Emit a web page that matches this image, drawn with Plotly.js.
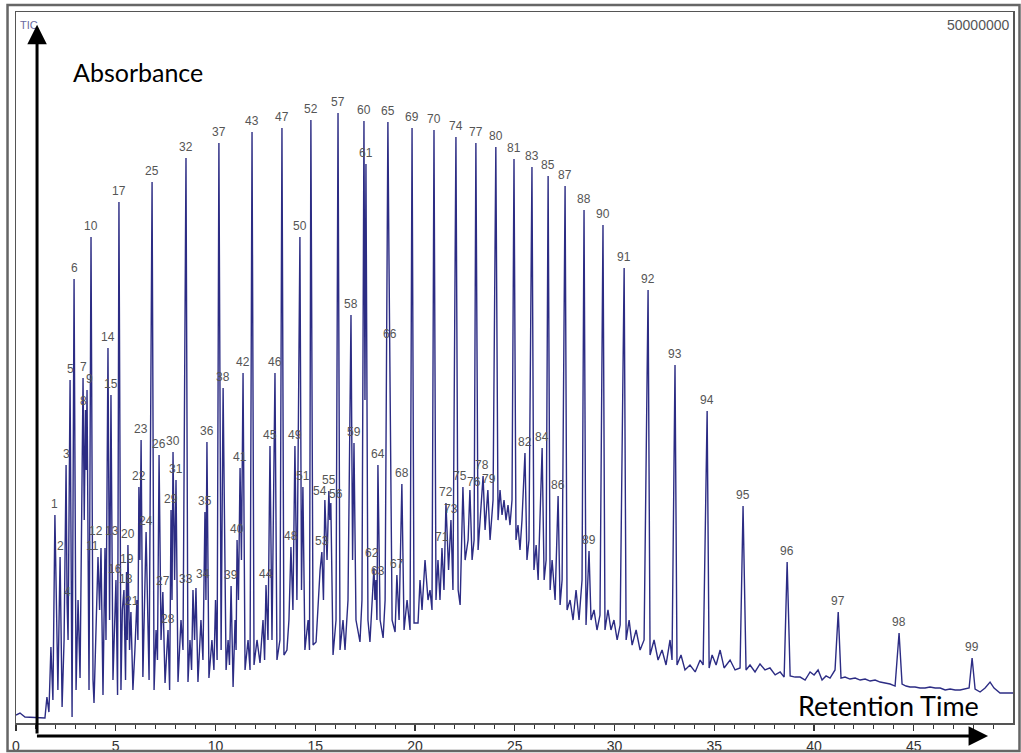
<!DOCTYPE html>
<html>
<head>
<meta charset="utf-8">
<script src="https://cdn.plot.ly/plotly-3.0.1.min.js"></script>
<style>html,body{margin:0;padding:0;background:#fff;}#chart{width:1021px;height:753px;}</style>
</head>
<body>
<div id="chart"></div>
<script>
// Labelled peaks: retention time (min) and apex abundance (millions of counts)
const peakNumbers = Array.from({length: 99}, (_, i) => String(i + 1));
const peakTimes = [1.95,2.21,2.51,2.56,2.71,2.91,3.36,3.48,3.56,3.76,
  4.11,4.26,4.46,4.61,4.76,5.01,5.16,5.41,5.54,5.61,
  5.76,6.16,6.27,6.52,6.82,7.17,7.36,7.62,7.77,7.87,
  8.02,8.52,8.87,9.02,9.47,9.57,10.17,10.38,10.78,11.08,
  11.23,11.38,11.83,12.53,12.73,12.98,13.33,13.78,13.98,14.23,
  14.38,14.78,15.33,15.48,15.68,15.78,16.14,16.79,16.94,17.44,
  17.54,17.94,18.04,18.14,18.64,18.74,19.09,19.34,19.85,20.95,
  21.35,21.55,21.80,22.05,22.40,22.75,23.05,23.41,23.65,24.05,
  24.96,25.51,25.86,26.37,26.67,27.17,27.52,28.47,28.72,29.42,
  30.48,31.68,33.03,34.64,36.44,38.65,41.21,44.26,47.92];
const peakHeights = [14.63,11.67,18.14,8.44,24.12,31.22,24.26,22.01,23.42,34.18,
  11.67,12.31,12.31,26.37,23.07,10.06,36.64,9.35,10.62,12.52,
  7.81,16.60,19.90,13.43,38.04,18.85,9.21,6.54,14.98,19.06,
  17.09,39.73,9.35,9.49,14.84,19.76,40.79,23.56,9.63,12.87,
  17.93,24.61,41.56,9.70,19.48,24.61,41.84,12.38,19.48,34.18,
  16.60,42.40,12.02,15.68,16.31,15.47,42.90,28.69,19.69,42.33,
  39.31,10.90,10.06,18.14,42.26,26.58,10.41,16.81,41.84,41.70,
  12.31,15.47,14.27,41.21,16.60,16.38,40.79,17.37,16.38,40.50,
  39.66,18.99,39.10,19.34,38.47,15.96,37.76,36.07,12.10,35.02,
  32.00,30.45,25.17,21.94,15.26,11.32,7.81,6.33,4.57];

// Valleys, baseline and unlabelled peaks of the TIC trace
const bgTimes = [0,0.20,0.45,1.45,1.55,1.65,1.75,1.85,2.10,2.31,2.41,2.61,2.81,3.01,3.11,3.21,3.42,3.52,3.66,3.86,
  3.91,4.01,4.19,4.36,4.51,4.69,4.86,5.09,5.26,5.33,5.49,5.575,5.69,5.86,5.96,6.06,6.11,6.21,6.36,6.67,
  6.92,7.02,7.09,7.27,7.47,7.70,7.82,7.95,8.12,8.27,8.37,8.62,8.72,8.80,8.95,9.12,9.27,9.37,9.52,9.67,
  9.82,9.92,10.00,10.08,10.28,10.53,10.63,10.70,10.88,10.98,11.03,11.15,11.30,11.48,11.63,11.73,11.93,12.08,12.23,12.38,
  12.46,12.63,12.83,13.08,13.23,13.43,13.58,13.68,13.88,14.08,14.31,14.48,14.64,14.71,14.89,15.04,15.14,15.24,15.41,15.59,
  15.73,15.89,16.04,16.24,16.39,16.49,16.64,16.87,17.04,17.24,17.34,17.49,17.64,17.74,17.84,17.99,18.09,18.25,18.40,18.50,
  18.69,18.85,19.00,19.20,19.45,19.60,19.75,19.95,20.15,20.25,20.35,20.50,20.65,20.75,20.85,21.05,21.15,21.25,21.45,21.68,
  21.90,22.16,22.26,22.51,22.66,22.86,22.96,23.16,23.26,23.51,23.76,23.91,24.16,24.26,24.36,24.46,24.56,24.66,24.76,24.86,
  25.06,25.16,25.26,25.36,25.61,25.71,25.96,26.07,26.17,26.47,26.57,26.77,26.87,27.02,27.27,27.37,27.62,27.77,27.92,28.07,
  28.22,28.37,28.57,28.82,28.97,29.12,29.27,29.52,29.67,29.82,29.97,30.13,30.28,30.58,30.73,30.88,31.08,31.28,31.48,31.78,
  31.98,32.18,32.38,32.58,32.78,32.88,33.13,33.33,33.53,33.78,34.04,34.29,34.44,34.74,34.89,35.09,35.29,35.49,35.79,36.04,
  36.29,36.59,36.79,37.04,37.29,37.54,37.79,38.05,38.30,38.50,38.80,39.05,39.30,39.55,39.80,40.00,40.20,40.40,40.60,40.80,
  41.05,41.35,41.55,41.80,42.06,42.31,42.56,42.81,43.06,43.31,43.56,43.81,44.06,44.41,44.61,44.81,45.06,45.31,45.56,45.81,
  46.07,46.32,46.57,46.82,47.07,47.32,47.57,47.77,48.07,48.32,48.57,48.82,49.02,49.32,49.97];
const bgHeights = [0.56,0.70,0.42,0.35,1.83,0.77,5.34,1.62,2.32,1.13,5.84,5.84,0.42,2.32,8.65,3.16,14.27,17.79,2.32,3.02,
  1.41,5.84,7.95,1.97,5.84,7.24,3.02,1.97,2.32,7.95,3.02,5.84,5.13,2.32,5.13,8.65,5.84,11.46,3.23,3.02,
  2.32,6.54,4.43,5.84,2.81,2.32,8.65,10.06,2.88,7.24,5.13,2.88,5.84,3.73,5.84,2.88,7.24,4.43,8.65,3.16,
  5.84,3.73,8.65,4.43,5.13,3.73,5.84,4.08,2.53,7.24,5.13,8.65,11.46,3.73,5.84,3.73,4.08,5.84,4.22,7.24,
  4.43,5.84,5.84,4.43,5.84,4.78,5.13,7.24,7.95,8.65,9.35,5.13,7.24,5.13,5.48,5.70,8.65,10.76,8.65,11.46,
  14.27,4.78,7.24,5.13,7.24,5.13,8.65,11.46,7.24,5.70,8.65,22.71,7.24,5.70,8.65,8.65,7.24,7.24,5.98,8.65,
  33.26,7.24,6.40,7.24,6.54,8.65,6.54,7.03,7.03,10.06,7.95,11.46,8.65,9.35,7.95,8.65,11.46,8.65,9.35,10.76,
  9.35,9.35,8.30,11.46,12.87,11.46,12.87,12.17,14.27,13.57,12.87,15.68,14.27,16.38,14.63,15.68,14.27,15.33,13.92,15.68,
  12.87,13.92,12.17,14.27,11.46,12.87,10.76,12.52,10.06,10.06,11.46,9.35,11.46,8.65,8.30,10.06,7.95,8.65,7.24,9.35,
  7.24,10.06,6.89,7.24,7.95,6.54,7.59,6.54,7.95,6.54,7.24,5.84,6.89,5.84,7.24,5.48,6.54,5.13,5.84,4.78,
  5.84,4.43,5.13,4.08,5.84,4.43,4.08,4.78,3.73,4.08,3.59,4.43,4.08,3.87,4.78,4.08,5.13,3.87,4.43,3.73,
  3.87,3.73,4.08,3.59,4.15,3.73,3.87,3.38,3.59,3.23,3.31,3.23,3.23,3.02,3.59,3.38,3.73,3.02,3.31,3.16,
  3.73,3.16,3.23,3.09,3.16,3.02,3.09,2.95,3.02,2.88,2.81,2.74,2.60,2.74,2.60,2.53,2.53,2.46,2.46,2.53,
  2.46,2.46,2.32,2.39,2.32,2.32,2.39,2.46,2.39,2.18,2.46,2.88,2.46,2.11,2.11];

const xTickVals = [0,5,10,15,20,25,30,35,40,45];
const xTickText = ['0','5','10','15','20','25','30','35','40','45'];
const fullScaleLabel = '50000000';

// Build the trace: merge labelled apexes with the background points in time order
const pts = [];
peakTimes.forEach((t, i) => pts.push([t, peakHeights[i]]));
bgTimes.forEach((t, i) => pts.push([t, bgHeights[i]]));
pts.sort((a, b) => a[0] - b[0]);

const trace = {
  x: pts.map(p => p[0]), y: pts.map(p => p[1]),
  type: 'scatter', mode: 'lines',
  line: {color: '#2c2c84', width: 1.4},
  hoverinfo: 'skip', showlegend: false
};

// label nudges (pixels) for crowded peak numbers
const labelNudge = {
  '8': [-2, -2], '9': [2, 0], '11': [-6, 0], '12': [-5, 6], '13': [7, 6],
  '16': [-1, 0], '18': [2, 0], '19': [0, 2], '21': [1, 0],
  '33': [-7, 0], '34': [7, 3], '54': [-5, -2], '55': [0, 0], '56': [5, -2],
  '62': [-2, 4], '63': [2, -2], '75': [-3, 0], '76': [4, -3], '78': [-1, 0], '79': [1, 0]
};

const annotations = peakNumbers.map((n, i) => {
  const nd = labelNudge[n] || [0, 0];
  return {
    x: peakTimes[i], y: peakHeights[i], xref: 'x', yref: 'y',
    text: n, showarrow: false, xanchor: 'center', yanchor: 'bottom',
    xshift: nd[0], yshift: 2 + nd[1],
    font: {family: 'Liberation Sans, Arial, sans-serif', size: 12, color: '#555'}
  };
});

annotations.push(
  {xref: 'paper', yref: 'paper', x: 0.0131, y: 0.9817, xanchor: 'center', yanchor: 'middle', text: 'TIC', showarrow: false,
   font: {family: 'Liberation Sans, Arial', size: 11, color: '#6a6aa0'}},
  {xref: 'paper', yref: 'paper', x: 0.999, y: 0.9817, xanchor: 'right', yanchor: 'middle', text: fullScaleLabel, showarrow: false,
   font: {family: 'Liberation Sans, Arial', size: 14, color: '#555'}},
  {xref: 'paper', yref: 'paper', x: 0.1224, y: 0.9156, xanchor: 'center', yanchor: 'middle', text: 'Absorbance', showarrow: false,
   font: {family: 'Lato, Carlito, sans-serif', size: 25, color: '#000'}},
  {xref: 'paper', yref: 'paper', x: 0.8756, y: 0.0253, xanchor: 'center', yanchor: 'middle', text: 'Retention Time', showarrow: false,
   font: {family: 'Lato, Carlito, sans-serif', size: 27, color: '#000'}},
  // vertical arrow
  {xref: 'paper', yref: 'paper', x: 0.0211, y: 0.982, ax: 0.0211, ay: -0.017, axref: 'paper', ayref: 'paper',
   text: '', showarrow: true, arrowhead: 2, arrowsize: 1.3, arrowwidth: 3, arrowcolor: '#000'},
  // horizontal arrow
  {xref: 'paper', yref: 'paper', x: 0.975, y: -0.0183, ax: 0.0195, ay: -0.0183, axref: 'paper', ayref: 'paper',
   text: '', showarrow: true, arrowhead: 2, arrowsize: 1.3, arrowwidth: 3, arrowcolor: '#000'}
);

const layout = {
  width: 1021, height: 753,
  margin: {l: 16, r: 8, t: 12, b: 30},
  paper_bgcolor: '#fff', plot_bgcolor: '#fff',
  showlegend: false,
  xaxis: {
    range: [0, 49.97], showgrid: false, zeroline: false,
    showline: true, mirror: true, linecolor: '#555', linewidth: 1.5,
    tickmode: 'array', tickvals: xTickVals, ticktext: xTickText,
    ticks: 'outside', ticklen: 6, tickwidth: 1.2, tickcolor: '#333',
    ticklabelstandoff: 4,
    minor: {ticks: 'outside', dtick: 1, tick0: 0, ticklen: 4, tickcolor: '#333', tickwidth: 1},
    tickfont: {family: 'Liberation Sans, Arial', size: 14, color: '#333'}
  },
  yaxis: {
    range: [0, 50], showgrid: false, zeroline: false,
    showline: true, mirror: true, linecolor: '#555', linewidth: 1.5,
    showticklabels: false, ticks: ''
  },
  shapes: [
    {type: 'rect', xref: 'paper', yref: 'paper', x0: -0.0085, x1: 1.0065, y0: -0.0394, y1: 1.0098,
     line: {color: '#666', width: 2.5}, fillcolor: 'rgba(0,0,0,0)'}
  ],
  annotations: annotations
};

Plotly.newPlot('chart', [trace], layout, {displayModeBar: false, staticPlot: true});
</script>
</body>
</html>
